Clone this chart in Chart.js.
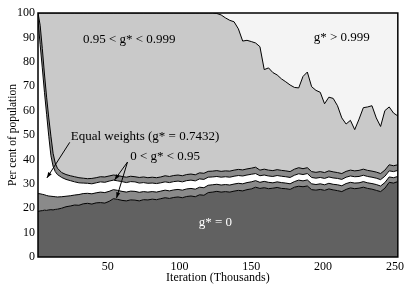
<!DOCTYPE html>
<html>
<head>
<meta charset="utf-8">
<script src="https://cdn.jsdelivr.net/npm/chart.js@4"></script>
<style>
  body { margin: 0; background: #fff; }
</style>
</head>
<body>
<canvas id="chart" width="407" height="287"></canvas>
<script>
// iteration (thousands)
var iters = [
  1.5, 3, 4.5, 6, 7.5, 9, 10.5, 12, 13.5, 15,
  18, 21, 24, 27, 30, 33, 36, 39, 42, 45,
  48, 51, 54, 57, 60, 63, 66, 69, 72, 75,
  78, 81, 84, 87, 90, 93, 96, 99, 102, 105,
  108, 111, 114, 117, 120, 123, 126, 129, 132, 135,
  138, 141, 144, 147, 150, 153, 156, 159, 162, 165,
  168, 171, 174, 177, 180, 183, 186, 189, 192, 195,
  198, 201, 204, 207, 210, 213, 216, 219, 222, 225,
  228, 231, 234, 237, 240, 243, 246, 249, 252
];

// cumulative percent, top edge of each class
var zeroTop = [
  18.6, 18.9, 19.0, 19.2, 19.1, 19.3, 19.4, 19.3, 19.5, 19.6,
  20.0, 20.6, 20.9, 21.3, 21.2, 21.8, 22.0, 21.7, 22.2, 22.3,
  22.1, 22.8, 23.9, 23.6, 23.2, 23.0, 23.4, 23.3, 23.0, 23.5,
  23.4, 23.7, 23.5, 23.9, 24.3, 24.0, 24.4, 24.6, 24.3, 24.8,
  25.0, 24.7, 25.5, 25.3, 26.4, 26.6, 26.9, 26.6, 26.8, 26.6,
  27.0, 27.3, 27.1, 27.6, 27.9, 28.6, 28.1, 28.4, 28.0, 28.2,
  28.5, 28.1, 28.0, 27.7, 28.6, 29.0, 28.8, 29.1, 27.6, 27.4,
  27.7, 27.3, 27.9, 27.5, 27.2, 26.8, 27.7, 28.3, 28.0, 28.2,
  28.6, 28.1, 27.8, 27.3, 26.8, 28.2, 30.6, 30.3, 30.9
];
var lowBandTop = [
  26.0, 25.9, 25.7, 25.5, 25.2, 25.0, 24.9, 24.8, 24.7, 24.6,
  24.7, 24.9, 25.1, 25.4, 25.6, 26.0, 26.1, 25.9, 26.3, 26.6,
  26.4, 26.9, 27.6, 27.3, 26.9, 26.6, 27.0, 26.9, 26.5, 26.8,
  26.6, 26.8, 26.6, 27.0, 27.4, 27.1, 27.5, 27.7, 27.4, 27.9,
  28.1, 27.8, 28.6, 28.4, 29.4, 29.6, 29.8, 29.5, 29.7, 29.5,
  29.9, 30.2, 30.0, 30.5, 30.8, 31.3, 30.6, 31.0, 30.6, 30.4,
  30.8, 30.5, 30.3, 30.0, 30.9, 31.5, 31.2, 31.6, 30.0, 29.7,
  30.0, 29.6, 30.2, 29.8, 29.6, 29.2, 30.1, 30.6, 30.3, 30.4,
  30.9, 30.4, 30.1, 29.7, 29.1, 30.5, 32.8, 32.5, 33.0
];
var equalTop = [
  97.0, 87.0, 77.5, 67.5, 58.5, 49.5, 41.5, 37.2, 35.0, 33.8,
  32.6, 31.8, 31.3, 30.8, 30.4, 30.3, 30.2, 30.0, 30.4, 30.8,
  30.6, 31.1, 31.5, 31.2, 30.9, 30.5, 30.9, 30.8, 30.3, 30.5,
  30.2, 30.3, 30.1, 30.4, 30.8, 30.5, 30.9, 31.1, 30.8, 31.3,
  31.5, 31.2, 32.0, 31.8, 32.7, 32.8, 33.0, 32.7, 32.9, 32.7,
  33.1, 33.4, 33.2, 33.6, 33.9, 34.2, 33.3, 33.6, 33.2, 33.0,
  33.4, 33.1, 32.9, 32.6, 33.5, 34.1, 33.8, 34.2, 32.6, 32.3,
  32.6, 32.2, 32.8, 32.4, 32.2, 31.8, 32.7, 33.2, 32.9, 33.0,
  33.5, 33.0, 32.7, 32.3, 31.7, 33.1, 35.3, 35.0, 35.5
];
var highBandTop = [
  100, 95.0, 85.5, 75.0, 65.5, 57.0, 49.5, 42.5, 38.5, 36.4,
  34.6, 33.8, 33.3, 32.9, 32.5, 32.3, 32.1, 32.2, 32.5, 32.9,
  32.8, 33.2, 33.6, 33.4, 33.0, 32.7, 33.1, 32.9, 32.6, 32.8,
  32.5, 32.7, 32.5, 32.8, 33.3, 33.0, 33.4, 33.6, 33.3, 33.8,
  34.0, 33.7, 34.5, 34.3, 35.1, 35.2, 35.4, 35.1, 35.3, 35.2,
  35.6, 35.9, 35.7, 36.1, 36.4, 36.8, 35.6, 36.0, 35.6, 35.4,
  35.8, 35.5, 35.3, 35.0, 36.0, 36.6, 36.2, 36.6, 35.0, 34.7,
  35.0, 34.6, 35.3, 34.9, 34.6, 34.2, 35.1, 35.6, 35.3, 35.5,
  36.0, 35.5, 35.2, 34.8, 34.2, 35.6, 37.8, 37.4, 37.8
];
var upperTop = [
  100, 100, 100, 100, 100, 100, 100, 100, 100, 100,
  100, 100, 100, 100, 100, 100, 100, 100, 100, 100,
  100, 100, 100, 100, 100, 100, 100, 100, 100, 100,
  100, 100, 100, 100, 100, 100, 100, 100, 100, 100,
  100, 100, 100, 100, 100, 100, 99.8, 99.2, 98.0, 97.0,
  96.4, 93.5, 88.5, 88.8, 88.3, 87.7, 86.2, 76.8, 77.5, 75.6,
  74.6, 73.0, 71.8, 70.5, 69.5, 69.3, 74.0, 75.8, 69.8, 68.3,
  67.5, 62.8, 65.5, 65.0, 62.0, 57.0, 54.5, 56.0, 52.2, 56.5,
  61.2, 61.5, 62.0, 57.0, 53.5, 60.0, 61.5, 59.0, 57.8
];

var xTicks = [50, 100, 150, 200, 250];
var yTicks = [0, 10, 20, 30, 40, 50, 60, 70, 80, 90, 100];

// text labels, placed in data units
var notes = [
  { text: '0.95 < g* < 0.999', x: 65, y: 89, color: '#000' },
  { text: 'g* > 0.999', x: 213, y: 90, color: '#000' },
  { text: 'Equal weights (g* = 0.7432)', x: 76, y: 49.5, color: '#000' },
  { text: '0 < g* < 0.95', x: 90, y: 41, color: '#000' },
  { text: 'g* = 0', x: 125, y: 14.3, color: '#fff' }
];
var arrows = [
  { from: [23.6, 47], to: [7.7, 32.4] },
  { from: [63.8, 38.9], to: [54.8, 31.6] },
  { from: [63.8, 38.9], to: [56.2, 24.2] }
];

function pts(arr) {
  var out = [];
  for (var i = 0; i < iters.length; i++) {
    out.push({ x: iters[i], y: arr[i] });
  }
  return out;
}

function band(label, arr, fill, color) {
  return {
    label: label,
    data: pts(arr),
    fill: fill,
    backgroundColor: color,
    borderColor: '#000',
    borderWidth: 1,
    pointRadius: 0,
    tension: 0
  };
}

var plotBack = {
  id: 'plotBack',
  beforeDraw: function (chart) {
    var a = chart.chartArea, ctx = chart.ctx;
    ctx.save();
    ctx.fillStyle = '#f4f4f4';
    ctx.fillRect(a.left, a.top, a.right - a.left, a.bottom - a.top);
    ctx.restore();
  },
  afterDraw: function (chart) {
    var a = chart.chartArea, ctx = chart.ctx;
    var xs = chart.scales.x, ys = chart.scales.y;
    ctx.save();
    ctx.strokeStyle = '#000';
    ctx.lineWidth = 1.5;
    ctx.strokeRect(a.left, a.top, a.right - a.left, a.bottom - a.top);

    ctx.font = '13px "Liberation Serif", serif';
    ctx.textAlign = 'center';
    ctx.textBaseline = 'middle';
    notes.forEach(function (n) {
      ctx.fillStyle = n.color;
      ctx.fillText(n.text, xs.getPixelForValue(n.x), ys.getPixelForValue(n.y));
    });

    ctx.lineWidth = 1;
    arrows.forEach(function (ar) {
      var x0 = xs.getPixelForValue(ar.from[0]), y0 = ys.getPixelForValue(ar.from[1]);
      var x1 = xs.getPixelForValue(ar.to[0]), y1 = ys.getPixelForValue(ar.to[1]);
      ctx.beginPath();
      ctx.moveTo(x0, y0);
      ctx.lineTo(x1, y1);
      ctx.stroke();
      var ang = Math.atan2(y1 - y0, x1 - x0);
      ctx.beginPath();
      ctx.moveTo(x1, y1);
      ctx.lineTo(x1 - 6 * Math.cos(ang - 0.35), y1 - 6 * Math.sin(ang - 0.35));
      ctx.lineTo(x1 - 6 * Math.cos(ang + 0.35), y1 - 6 * Math.sin(ang + 0.35));
      ctx.closePath();
      ctx.fillStyle = '#000';
      ctx.fill();
    });
    ctx.restore();
  }
};

Chart.defaults.font.family = '"Liberation Serif", "Times New Roman", serif';
Chart.defaults.font.size = 12;
Chart.defaults.color = '#000';

new Chart(document.getElementById('chart'), {
  type: 'line',
  data: {
    datasets: [
      band('g* = 0', zeroTop, 'origin', '#616161'),
      band('0 < g* < 0.95', lowBandTop, '-1', '#8a8a8a'),
      band('Equal weights', equalTop, '-1', '#ffffff'),
      band('0 < g* < 0.95 ', highBandTop, '-1', '#8a8a8a'),
      band('0.95 < g* < 0.999', upperTop, '-1', '#c9c9c9')
    ]
  },
  options: {
    responsive: false,
    animation: false,
    layout: { padding: { top: 13, right: 7, left: 0, bottom: 0 } },
    plugins: {
      legend: { display: false },
      tooltip: { enabled: false },
      filler: { drawTime: 'beforeDatasetsDraw' }
    },
    scales: {
      x: {
        type: 'linear',
        min: 1.5,
        max: 252,
        grid: { display: false, drawTicks: false },
        border: { display: false },
        ticks: { padding: 3, maxRotation: 0 },
        afterBuildTicks: function (s) { s.ticks = xTicks.map(function (v) { return { value: v }; }); },
        afterFit: function (s) { s.height = 30; },
        title: { display: true, text: 'Iteration (Thousands)', padding: { top: 0, bottom: 2 } }
      },
      y: {
        min: 0,
        max: 100,
        grid: { display: false, drawTicks: false },
        border: { display: false },
        ticks: { padding: 3 },
        afterBuildTicks: function (s) { s.ticks = yTicks.map(function (v) { return { value: v }; }); },
        afterFit: function (s) { s.width = 38; },
        title: { display: true, text: 'Per cent of population', font: { size: 11.5 }, padding: { top: 6, bottom: 0 } }
      }
    }
  },
  plugins: [plotBack]
});
</script>
</body>
</html>
